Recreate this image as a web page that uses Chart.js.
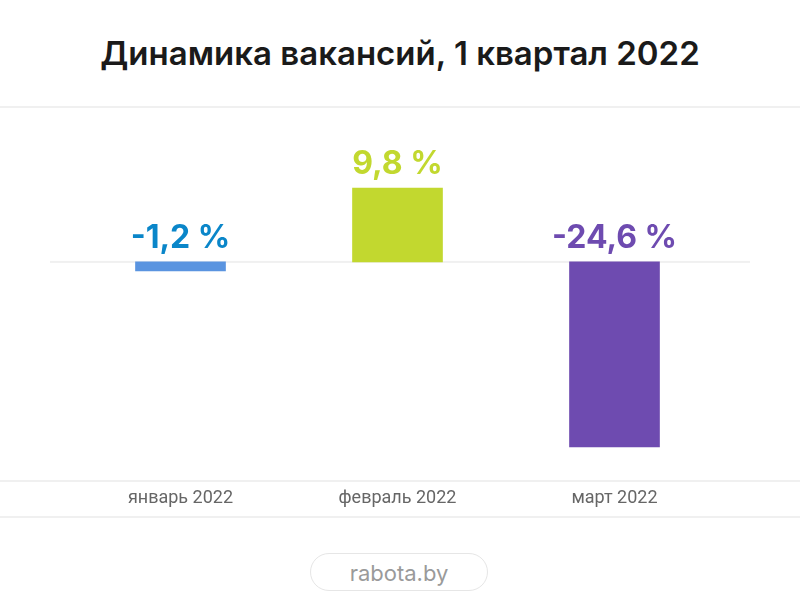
<!DOCTYPE html>
<html>
<head>
<meta charset="UTF-8">
<script src="https://cdn.jsdelivr.net/npm/chart.js"></script>
<style>
  body { margin: 0; background: #fff; font-family: Inter, Roboto, sans-serif; }
  #wrap { position: relative; width: 800px; height: 603px; overflow: hidden; }
  #title { position: absolute; top: 33px; left: 0; width: 800px; text-align: center;
           font-size: 33px; font-weight: 600; color: #1a1a1a; }
  .rule { position: absolute; left: 0; width: 800px; height: 2px; background: #f0f0f0; }
  #pill { position: absolute; left: 310px; top: 553px; width: 178px; height: 38px;
          border: 1px solid #e6e6e6; border-radius: 20px; text-align: center;
          line-height: 38px; font-size: 22px; color: #9a9a9a; box-sizing: border-box; }
  canvas { position: absolute; left: 0; top: 0; }
</style>
</head>
<body>
<div id="wrap">
  <div id="title">Динамика вакансий, 1 квартал 2022</div>
  <div class="rule" style="top:106px"></div>
  <div class="rule" style="top:480px"></div>
  <div class="rule" style="top:516px"></div>
  <div id="pill">rabota.by</div>
  <canvas id="chart" width="800" height="603"></canvas>
</div>
<script>
const months = ['январь 2022', 'февраль 2022', 'март 2022'];
const values = [-1.2, 9.8, -24.6];
const barColors = ['#5a94e0', '#c2d82f', '#6e4bb0'];
const labelColors = ['#0a86c9', '#c2d82f', '#6e4bb0'];

const extras = {
  id: 'extras',
  beforeDatasetsDraw(chart) {
    const ctx = chart.ctx;
    const y0 = chart.scales.y.getPixelForValue(0);
    ctx.save();
    ctx.fillStyle = '#f0f0f0';
    ctx.fillRect(50, y0 - 1, 700, 2);
    ctx.restore();
  },
  afterDatasetsDraw(chart) {
    const ctx = chart.ctx;
    const xs = chart.scales.x, ys = chart.scales.y;
    const y0 = ys.getPixelForValue(0);
    ctx.save();
    ctx.textAlign = 'center';
    months.forEach((m, i) => {
      const x = xs.getPixelForValue(i);
      ctx.font = '18px Roboto, sans-serif';
      ctx.fillStyle = '#666';
      ctx.textBaseline = 'middle';
      ctx.fillText(m, x, 498);
      ctx.font = 'bold 32px Inter, Roboto, sans-serif';
      ctx.fillStyle = labelColors[i];
      ctx.textBaseline = 'alphabetic';
      const top = values[i] > 0 ? ys.getPixelForValue(values[i]) : y0;
      ctx.fillText(values[i].toString().replace('.', ',') + ' %', x, top - 14);
    });
    ctx.restore();
  }
};

new Chart(document.getElementById('chart'), {
  type: 'bar',
  data: {
    labels: months,
    datasets: [{ data: values, backgroundColor: barColors, barThickness: 90, borderWidth: 0 }]
  },
  options: {
    responsive: false,
    animation: false,
    layout: { padding: { left: 72, right: 77, top: 122, bottom: 135 } },
    plugins: { legend: { display: false }, tooltip: { enabled: false } },
    scales: {
      x: { display: false },
      y: { display: false, min: -27.4, max: 18.6 }
    }
  },
  plugins: [extras]
});
</script>
</body>
</html>
